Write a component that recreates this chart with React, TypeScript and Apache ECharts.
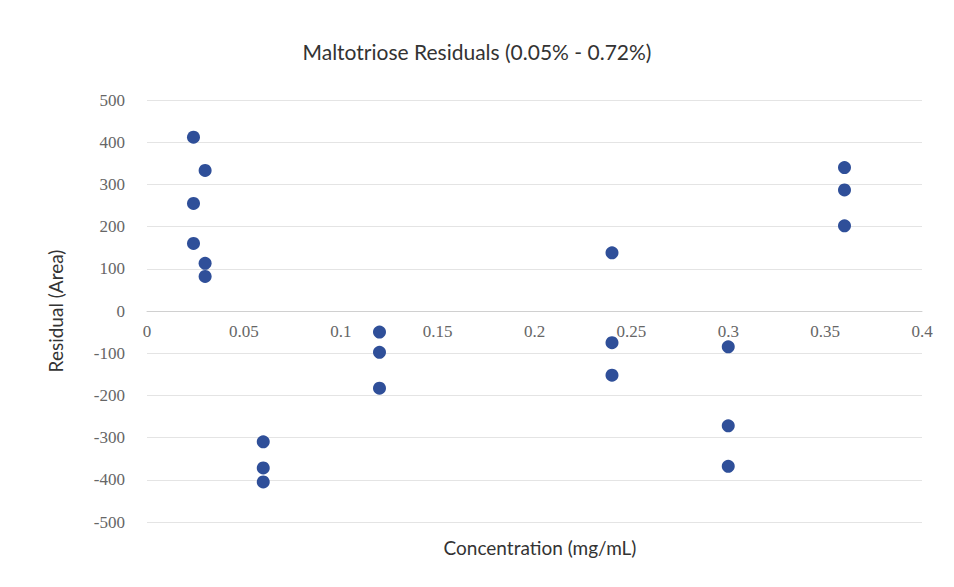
import React, { useEffect, useRef } from "react";
import * as echarts from "echarts";

const concentrations = [0.024, 0.024, 0.024, 0.03, 0.03, 0.03, 0.06, 0.06, 0.06, 0.12, 0.12, 0.12, 0.24, 0.24, 0.24, 0.3, 0.3, 0.3, 0.36, 0.36, 0.36];
const residuals = [412, 255, 160, 333, 113, 82, -310, -372, -405, -50, -98, -183, 138, -75, -152, -85, -272, -368, 340, 287, 202];

const App: React.FC = () => {
  const chartRef = useRef<HTMLDivElement | null>(null);

  useEffect(() => {
    if (!chartRef.current) return;
    const chart = echarts.init(chartRef.current, undefined, { renderer: "svg" });
    const serif = "Liberation Serif";
    chart.setOption({
      animation: false,
      backgroundColor: "#fff",
      title: [
        {
          text: "Maltotriose Residuals (0.05% - 0.72%)",
          left: "center",
          top: 36,
          textStyle: { fontFamily: "Lato", fontWeight: "normal", fontSize: 21, color: "#333" },
        },
        {
          text: "Concentration (mg/mL)",
          left: 535,
          textAlign: "center",
          top: 533,
          textStyle: { fontFamily: "Lato", fontWeight: "normal", fontSize: 19, color: "#333" },
        },
      ],
      grid: { left: 147, right: 32, top: 100, bottom: 65, outerBoundsMode: "none", containLabel: false },
      xAxis: {
        type: "value",
        min: 0,
        max: 0.4,
        interval: 0.05,
        offset: -211,
        axisLine: { show: true, onZero: false, lineStyle: { color: "#d0d0d0" } },
        axisTick: { show: false },
        splitLine: { show: false },
        axisLabel: { fontFamily: serif, fontSize: 17, color: "#666", margin: 12 },
      },
      yAxis: {
        type: "value",
        min: -500,
        max: 500,
        interval: 100,
        name: "Residual (Area)",
        nameLocation: "middle",
        nameGap: 82,
        nameTextStyle: { fontFamily: "Lato", fontSize: 19, color: "#333" },
        axisLine: { show: false },
        axisTick: { show: false },
        splitLine: { lineStyle: { color: "#e4e4e4" } },
        axisLabel: { fontFamily: serif, fontSize: 17, color: "#666", margin: 22 },
      },
      series: [
        {
          type: "scatter",
          symbolSize: 13,
          itemStyle: { color: "#2f4f99", opacity: 1 },
          data: concentrations.map((c, i) => [c, residuals[i]]),
        },
      ],
    });
    return () => chart.dispose();
  }, []);

  return <div ref={chartRef} style={{ position: "absolute", left: 0, top: 0, width: 954, height: 587 }} />;
};

export default App;
